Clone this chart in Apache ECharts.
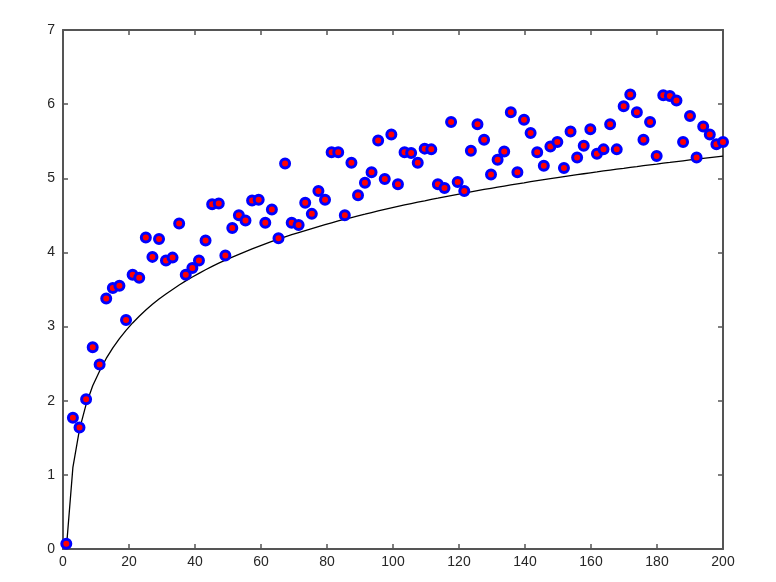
<!DOCTYPE html>
<html><head><meta charset="utf-8">
<script src="https://cdn.jsdelivr.net/npm/echarts@6/dist/echarts.min.js"></script>
<style>html,body{margin:0;padding:0;background:#fff}#c{width:776px;height:582px}</style>
</head><body><div id="c"></div>
<script>
var xValues = [1.0,3.0,5.0,7.0,9.0,11.1,13.1,15.1,17.1,19.1,21.1,23.1,25.1,27.1,29.1,31.2,33.2,35.2,37.2,39.2,41.2,43.2,45.2,47.2,49.2,51.3,53.3,55.3,57.3,59.3,61.3,63.3,65.3,67.3,69.3,71.4,73.4,75.4,77.4,79.4,81.4,83.4,85.4,87.4,89.4,91.5,93.5,95.5,97.5,99.5,101.5,103.5,105.5,107.5,109.6,111.6,113.6,115.6,117.6,119.6,121.6,123.6,125.6,127.6,129.7,131.7,133.7,135.7,137.7,139.7,141.7,143.7,145.7,147.7,149.8,151.8,153.8,155.8,157.8,159.8,161.8,163.8,165.8,167.8,169.9,171.9,173.9,175.9,177.9,179.9,181.9,183.9,185.9,187.9,190.0,192.0,194.0,196.0,198.0,200.0];
var scatterY = [0.07,1.77,1.64,2.02,2.72,2.49,3.38,3.52,3.55,3.09,3.70,3.66,4.20,3.94,4.18,3.89,3.93,4.39,3.70,3.79,3.89,4.16,4.65,4.66,3.96,4.33,4.50,4.43,4.70,4.71,4.40,4.58,4.19,5.20,4.40,4.37,4.67,4.52,4.83,4.71,5.35,5.35,4.50,5.21,4.77,4.94,5.08,5.51,4.99,5.59,4.92,5.35,5.34,5.21,5.40,5.39,4.92,4.87,5.76,4.95,4.83,5.37,5.73,5.52,5.05,5.25,5.36,5.89,5.08,5.79,5.61,5.35,5.17,5.43,5.49,5.14,5.63,5.28,5.44,5.66,5.33,5.39,5.73,5.39,5.97,6.13,5.89,5.52,5.76,5.30,6.12,6.11,6.05,5.49,5.84,5.28,5.70,5.59,5.46,5.49];
var curveY = [0,1.102,1.613,1.950,2.202,2.402,2.570,2.713,2.838,2.949,3.049,3.140,3.224,3.301,3.372,3.439,3.501,3.560,3.616,3.668,3.718,3.766,3.812,3.855,3.897,3.937,3.975,4.012,4.048,4.082,4.116,4.148,4.179,4.210,4.239,4.268,4.295,4.322,4.349,4.374,4.399,4.424,4.448,4.471,4.494,4.516,4.538,4.559,4.580,4.600,4.620,4.640,4.659,4.678,4.696,4.715,4.732,4.750,4.767,4.784,4.801,4.817,4.833,4.849,4.865,4.880,4.895,4.910,4.925,4.939,4.954,4.968,4.982,4.995,5.009,5.022,5.035,5.048,5.061,5.074,5.086,5.099,5.111,5.123,5.135,5.147,5.158,5.170,5.181,5.192,5.204,5.214,5.225,5.236,5.247,5.257,5.268,5.278,5.288,5.298];

var scatterData = xValues.map(function(x,i){return [x, scatterY[i]];});
var curveData = xValues.map(function(x,i){return [x, curveY[i]];});

var axisColor = '#555555';
var labelStyle = {color:'#262626', fontSize:14, fontFamily:'Liberation Sans, Arial, sans-serif'};
function xAx(pos, show){return {type:'value', position:pos, min:0, max:200, interval:20,
  axisLine:{show:true, onZero:false, lineStyle:{color:axisColor, width:2}},
  axisTick:{show:true, inside:true, length:5, lineStyle:{color:axisColor, width:1.5}},
  axisLabel:Object.assign({show:show, margin:6}, labelStyle),
  splitLine:{show:false}};}
function yAx(pos, show){return {type:'value', position:pos, min:0, max:7, interval:1,
  axisLine:{show:true, onZero:false, lineStyle:{color:axisColor, width:2}},
  axisTick:{show:true, inside:true, length:5, lineStyle:{color:axisColor, width:1.5}},
  axisLabel:Object.assign({show:show, margin:8}, labelStyle),
  splitLine:{show:false}};}

var chart = echarts.init(document.getElementById('c'), null, {renderer:'canvas'});
chart.setOption({
  animation:false,
  backgroundColor:'#ffffff',
  grid:{left:63, right:53, top:30, bottom:33, containLabel:false},
  xAxis:[xAx('bottom', true), xAx('top', false)],
  yAxis:[yAx('left', true), yAx('right', false)],
  series:[
    {type:'line', data:curveData, xAxisIndex:0, yAxisIndex:0, showSymbol:false, symbol:'none',
     lineStyle:{color:'#000000', width:1.3}, z:2},
    {type:'scatter', data:scatterData, xAxisIndex:0, yAxisIndex:0, symbol:'circle', symbolSize:9,
     itemStyle:{color:'#ff0000', borderColor:'#0000ff', borderWidth:3, opacity:1}, z:3}
  ]
});
</script></body></html>
